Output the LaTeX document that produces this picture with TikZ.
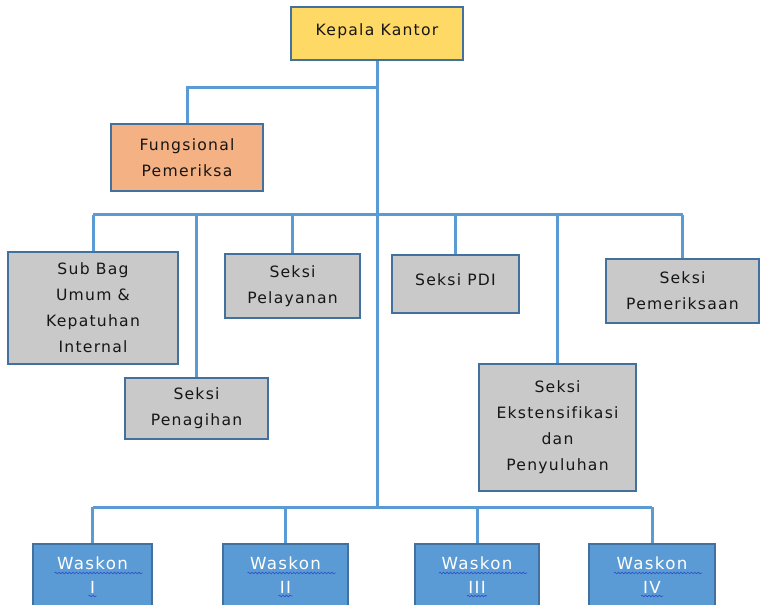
\documentclass[tikz,border=0pt]{standalone}
\usepackage{fontspec}
\setmainfont{DejaVu Sans}[LetterSpace=8, Ligatures=NoCommon]
\usepackage{xcolor}
\usepackage{tikz}
\usetikzlibrary{calc,decorations.pathmorphing}

\definecolor{linkblue}{HTML}{5B9BD5}
\definecolor{edgeblue}{HTML}{41719C}
\definecolor{kepalafill}{HTML}{FFD966}
\definecolor{fungsfill}{HTML}{F4B183}
\definecolor{seksifill}{HTML}{C9C9C9}
\definecolor{waskonfill}{HTML}{5B9BD5}
\definecolor{textgray}{HTML}{161616}
\definecolor{wavyblue}{HTML}{2E54C8}

\begin{document}
\begin{tikzpicture}[x=0.75pt, y=-0.75pt,
    unitbox/.style={draw=edgeblue, line width=0.9pt, align=center, inner sep=0pt, text=textgray, font=\fontsize{11.7}{19.5}\selectfont},
    waskonbox/.style={unitbox, fill=waskonfill, text=white, font=\fontsize{12.5}{18}\selectfont},
    link/.style={draw=linkblue, line width=2.25pt},
    wavy/.style={draw=wavyblue, line width=0.5pt, decorate, decoration={snake, amplitude=0.6pt, segment length=2.6pt}}]
    \path[use as bounding box, clip] (0,0) rectangle (760,605);

    \node[unitbox, fill=kepalafill, minimum width=129pt, minimum height=39.75pt] (kepala) at (377,33.5) {\raisebox{6.5pt}{Kepala Kantor}};
    \node[unitbox, fill=fungsfill, minimum width=114pt, minimum height=50.25pt] (fungsional) at (187,157.5) {Fungsional\\Pemeriksa};

    \node[unitbox, fill=seksifill, minimum width=127.5pt, minimum height=84pt] (subbag) at (93,308) {Sub Bag\\Umum \&\\Kepatuhan\\Internal};
    \node[unitbox, fill=seksifill, minimum width=107.25pt, minimum height=45.75pt] (penagihan) at (196.5,408.5) {Seksi\\Penagihan};
    \node[unitbox, fill=seksifill, minimum width=101.25pt, minimum height=48pt] (pelayanan) at (292.5,286) {Seksi\\Pelayanan};
    \node[unitbox, fill=seksifill, minimum width=95.25pt, minimum height=43.5pt] (pdi) at (455.5,284) {\raisebox{6.75pt}{Seksi PDI}};
    \node[unitbox, fill=seksifill, minimum width=117.75pt, minimum height=95.25pt] (ekstensifikasi) at (557.5,427.5) {Seksi\\Ekstensifikasi\\dan\\Penyuluhan};
    \node[unitbox, fill=seksifill, minimum width=114.75pt, minimum height=48pt] (pemeriksaan) at (682.5,291) {Seksi\\Pemeriksaan};

    \coordinate (fbus) at (377,88);
    \coordinate (sbus) at (377,215);
    \coordinate (wbus) at (377,507);

    \draw[link] (kepala.south) -- (wbus);
    \draw[link] (fbus) -| (fungsional.north);
    \draw[link] (subbag.north |- sbus) -- (pemeriksaan.north |- sbus);
    \foreach \unit in {subbag,penagihan,pelayanan,pdi,ekstensifikasi,pemeriksaan}{
        \draw[link] (\unit.north |- sbus) -- (\unit.north);
    }

    % waskon row, bottom runs off the page
    \foreach \cx/\bw/\rn/\rw/\wname in {92.5/89.25/I/4/w1, 285.5/93.75/II/7/w2, 477/93/III/10/w3, 652/94.5/IV/11/w4}{
        \node[waskonbox, minimum width=\bw pt, minimum height=46.5pt] (\wname) at (\cx,575) {Waskon\\\rn};
        \draw[link] (\wname.north |- wbus) -- (\wname.north);
        \draw[wavy] ($(\wname.center)+(-38,-2)$) -- ($(\wname.center)+(50,-2)$);
        \draw[wavy] ($(\wname.center)+(-\rw,21)$) -- ($(\wname.center)+(\rw,21)$);
    }
    \draw[link] (w1.north |- wbus) -- (w4.north |- wbus);
\end{tikzpicture}
\end{document}
